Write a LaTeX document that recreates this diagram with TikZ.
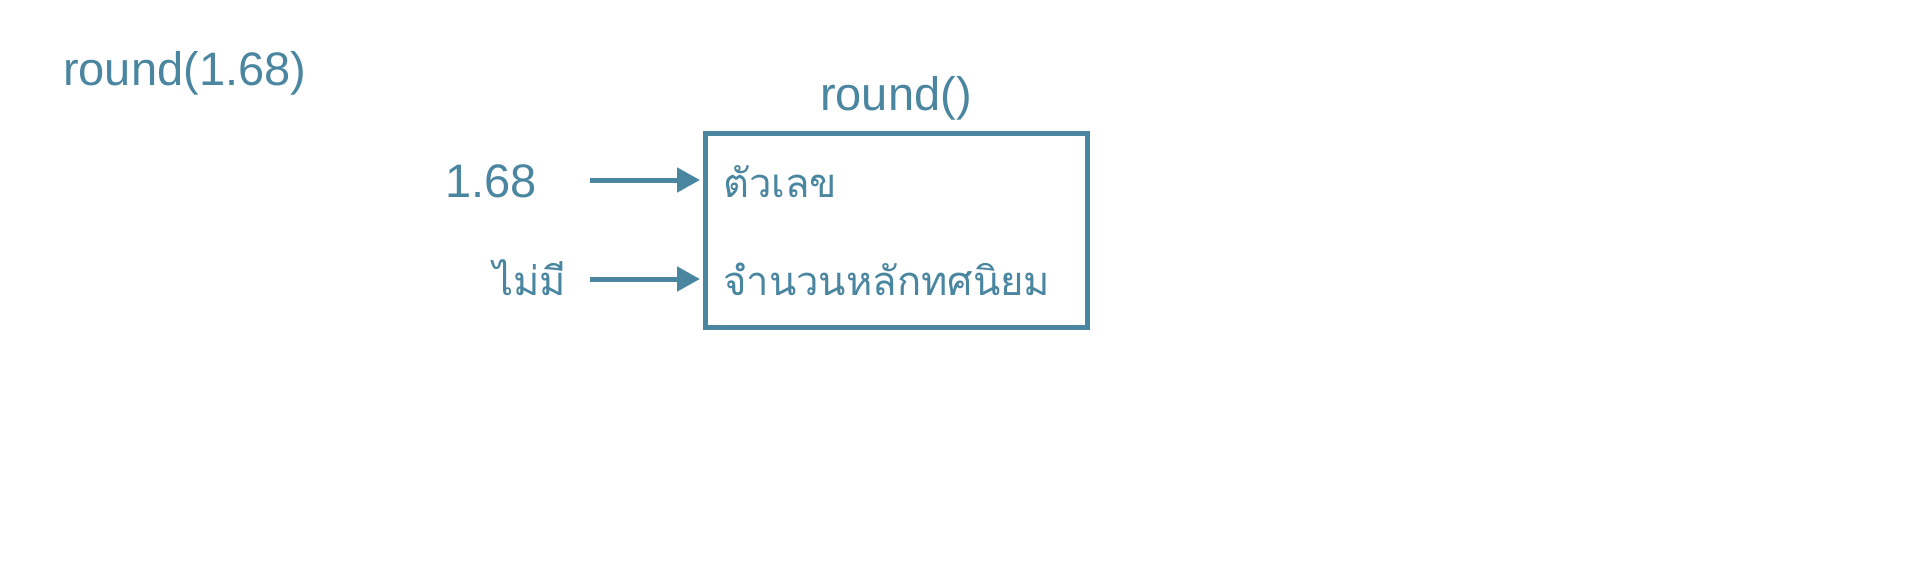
\documentclass[tikz,border=0pt]{standalone}
\usepackage{fontspec}
\setmainfont{Liberation Sans}
\newfontfamily\thaifont[Script=Thai]{Loma}
\usetikzlibrary{arrows.meta}
\definecolor{steel}{RGB}{74,134,160}
\tikzset{
  lbl/.style={anchor=base west, inner sep=0pt, text=steel, font=\fontsize{47}{56}\selectfont},
  thlbl/.style={anchor=base west, inner sep=0pt, text=steel, font=\thaifont\fontsize{40}{48}\selectfont},
  arr/.style={draw=steel, line width=5pt, -{Triangle[length=23pt,width=24pt]}},
  fbox/.style={draw=steel, line width=5pt, minimum width=382pt, minimum height=194pt, inner sep=0pt}
}
\begin{document}
\begin{tikzpicture}[x=1pt,y=-1pt]
\useasboundingbox (0,0) rectangle (1916,560);
\node[lbl] (call) at (63,85) {round(1.68)};
\node[lbl] (fname) at (820,110) {round()};
\node[fbox] (box) at (896.5,230.5) {};
\node[lbl] (v1) at (445,197) {1.68};
\node[thlbl] (v2) at (493,295) {ไม่มี};
\node[thlbl] (p1) at (723,197) {ตัวเลข};
\node[thlbl] (p2) at (723,295) {จำนวนหลักทศนิยม};
\coordinate (s1) at (590,180);
\coordinate (s2) at (590,279);
\draw[arr] (s1) -- ([xshift=-3pt]s1 -| box.west);
\draw[arr] (s2) -- ([xshift=-3pt]s2 -| box.west);
\end{tikzpicture}
\end{document}
